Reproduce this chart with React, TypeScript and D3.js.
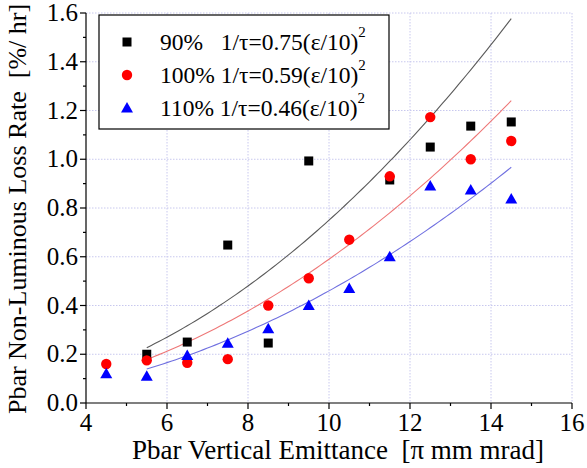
import React from "react";
import * as d3 from "d3";

const xTicks = [4, 6, 8, 10, 12, 14, 16];
const yTicks = [0.0, 0.2, 0.4, 0.6, 0.8, 1.0, 1.2, 1.4, 1.6];

const x90 = [5.5, 6.5, 7.5, 8.5, 9.5, 11.5, 12.5, 13.5, 14.5];
const y90 = [0.2, 0.25, 0.648, 0.246, 0.993, 0.915, 1.05, 1.136, 1.153];

const x100 = [4.5, 5.5, 6.5, 7.5, 8.5, 9.5, 10.5, 11.5, 12.5, 13.5, 14.5];
const y100 = [0.16, 0.175, 0.165, 0.18, 0.4, 0.512, 0.67, 0.93, 1.173, 1.0, 1.075];

const x110 = [4.5, 5.5, 6.5, 7.5, 8.5, 9.5, 10.5, 11.5, 12.5, 13.5, 14.5];
const y110 = [0.12, 0.11, 0.195, 0.245, 0.305, 0.4, 0.47, 0.6, 0.89, 0.874, 0.837];

const fitCoef = [0.75, 0.59, 0.46];
const fitRange = [5.5, 14.5];
const labels = ["90%", "100%", "110%"];
const coefLabels = ["0.75", "0.59", "0.46"];

const W = 587, H = 468;
const left = 86, right = 572, top = 13, bottom = 403;
const font = "Liberation Serif, DejaVu Serif, serif";

export default function App() {
  const x = d3.scaleLinear().domain([4, 16]).range([left, right]);
  const y = d3.scaleLinear().domain([0, 1.6]).range([bottom, top]);
  const line = d3.line<[number, number]>().x(d => x(d[0])).y(d => y(d[1]));
  const fitColors = ["#5a5a5a", "#ee7777", "#7070e0"];
  const fitPts = (c: number) =>
    d3.range(fitRange[0], fitRange[1] + 0.001, 0.1).map(v => [v, c * (v / 10) ** 2] as [number, number]);

  const xMinor = d3.range(5, 16, 2);
  const yMinor = d3.range(0.1, 1.6, 0.2);

  const square = (cx: number, cy: number, k: string) => (
    <rect key={k} x={cx - 4.5} y={cy - 4.5} width={9} height={9} fill="#000" />
  );
  const circle = (cx: number, cy: number, k: string) => (
    <circle key={k} cx={cx} cy={cy} r={5.2} fill="#ff0000" />
  );
  const tri = (cx: number, cy: number, k: string) => (
    <path key={k} d={`M${cx},${cy - 6}L${cx + 6},${cy + 4.5}L${cx - 6},${cy + 4.5}Z`} fill="#0000ff" />
  );
  const markers = [square, circle, tri];
  const txt = { fontFamily: font };

  return (
    <svg width={W} height={H} style={{ position: "absolute", left: 0, top: 0, background: "#fff", fontFamily: font }}>
      <rect x={0} y={0} width={W} height={H} fill="#fff" />
      {xTicks.slice(1).map(t => (
        <line key={"gx" + t} x1={x(t)} x2={x(t)} y1={top} y2={bottom} stroke="#c8c8ee" strokeWidth={1} strokeDasharray="1.5,1.5" />
      ))}
      {yTicks.slice(1).map(t => (
        <line key={"gy" + t} x1={left} x2={right} y1={y(t)} y2={y(t)} stroke="#c8c8ee" strokeWidth={1} strokeDasharray="1.5,1.5" />
      ))}
      {fitCoef.map((c, i) => (
        <path key={"fit" + i} d={line(fitPts(c)) || ""} fill="none" stroke={fitColors[i]} strokeWidth={1.1} />
      ))}
      {x90.map((v, i) => square(x(v), y(y90[i]), "s" + i))}
      {x100.map((v, i) => circle(x(v), y(y100[i]), "c" + i))}
      {x110.map((v, i) => tri(x(v), y(y110[i]), "t" + i))}
      <line x1={left} x2={left} y1={top} y2={bottom} stroke="#000" strokeWidth={1.2} />
      <line x1={left} x2={right} y1={bottom} y2={bottom} stroke="#000" strokeWidth={1.2} />
      {xTicks.map(t => (
        <g key={"xt" + t}>
          <line x1={x(t)} x2={x(t)} y1={bottom} y2={bottom + 6} stroke="#000" strokeWidth={1.2} />
          <text x={x(t)} y={bottom + 28} textAnchor="middle" fontSize={25} style={txt}>{t}</text>
        </g>
      ))}
      {xMinor.map(t => (
        <line key={"xm" + t} x1={x(t)} x2={x(t)} y1={bottom} y2={bottom + 3} stroke="#000" strokeWidth={1.2} />
      ))}
      {yTicks.map(t => (
        <g key={"yt" + t}>
          <line x1={left - 6} x2={left} y1={y(t)} y2={y(t)} stroke="#000" strokeWidth={1.2} />
          <text x={left - 8} y={y(t) + 8} textAnchor="end" fontSize={25} style={txt}>{t.toFixed(1)}</text>
        </g>
      ))}
      {yMinor.map(t => (
        <line key={"ym" + t} x1={left - 3} x2={left} y1={y(t)} y2={y(t)} stroke="#000" strokeWidth={1.2} />
      ))}
      <text x={338} y={459} textAnchor="middle" fontSize={27} style={txt} xmlSpace="preserve">
        {"Pbar Vertical Emittance  [π mm mrad]"}
      </text>
      <text transform={`translate(26,${(top + bottom) / 2 + 1}) rotate(-90)`} textAnchor="middle" fontSize={26} style={txt} xmlSpace="preserve">
        {"Pbar Non-Luminous Loss Rate  [%/ hr]"}
      </text>
      <rect x={99} y={15} width={290} height={114} fill="#fff" stroke="#000" strokeWidth={1.2} />
      {labels.map((l, i) => {
        const cy = 42 + i * 33;
        return (
          <g key={"lg" + i}>
            {markers[i](127, cy, "lm" + i)}
            <text x={160} y={cy + 8} fontSize={23.5} style={txt} xmlSpace="preserve">
              {l + (i === 0 ? "   " : " ") + "1/τ=" + coefLabels[i] + "(ε/10)"}
              <tspan fontSize={15} dy={-13}>2</tspan>
            </text>
          </g>
        );
      })}
    </svg>
  );
}
